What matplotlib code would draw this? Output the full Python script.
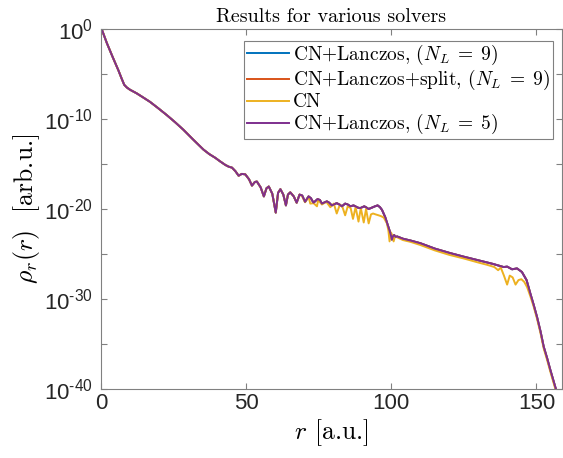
import numpy as np
import matplotlib
matplotlib.use("Agg")
import matplotlib.pyplot as plt
from matplotlib.ticker import FixedLocator, NullFormatter

plt.rcParams["mathtext.fontset"] = "cm"
plt.rcParams["mathtext.rm"] = "Liberation Sans"

# radial grid [a.u.] and log10 of the radial density, Lanczos propagators
r_lanczos = [0, 2, 4, 6, 7.1, 8.0, 8.9, 10, 12.3, 14.5, 16.9, 19.7, 22.6, 25.5, 28.4,
             31.8, 35.3, 37.3, 39.3, 41, 42.8, 44, 45.1, 46.3, 47.4, 48.5, 49.7, 51,
             52, 53, 53.7, 55, 56.1, 57, 57.8, 59, 60.2, 61, 61.8, 62.8, 63.7, 64.4,
             65.2, 66.4, 67.4, 68.4, 69.3, 70.3, 71.5, 72.3, 73.2, 74.6, 75.4, 76.1,
             77.8, 78.6, 79.5, 81.2, 82.1, 83, 84.1, 85, 85.9, 87, 87.6, 88.5, 89.3,
             90.7, 91.5, 92.2, 93.3, 94.4, 95.3, 96.1, 96.8, 97.9, 98.5, 99.1, 99.7,
             100.2, 100.6, 101, 101.5, 102, 104, 106.6, 110, 115, 120.3, 125, 130,
             135, 138.7, 139.9, 141.6, 143.3, 145, 146.6, 147.9, 149, 150.2, 151.4,
             152.5, 153.7, 154.8, 156.6, 158.8]
logrho_lanczos = [0.2, -1.55, -3.1, -4.6, -5.5, -6.2, -6.5, -6.75, -7.15, -7.6, -8.1,
                  -8.8, -9.55, -10.35, -11.2, -12.3, -13.4, -13.9, -14.3, -14.7, -15.1,
                  -15.3, -15.4, -15.8, -16.3, -16.1, -16.15, -16.7, -17.4, -17.0, -16.95,
                  -17.6, -18.6, -17.7, -17.5, -18.3, -20.4, -18.2, -17.8, -18.4, -19.6,
                  -18.4, -18.15, -18.6, -19.3, -18.4, -18.5, -19.2, -18.6, -18.8, -19.3,
                  -18.9, -19.0, -19.4, -19.15, -19.3, -19.6, -19.35, -19.5, -19.7, -19.4,
                  -19.5, -19.7, -19.6, -19.7, -19.85, -19.9, -19.7, -19.85, -20.0,
                  -19.85, -19.7, -19.6, -19.8, -20.1, -20.9, -21.5, -22.1, -22.7, -23.4,
                  -23.0, -22.9, -23.1, -23.05, -23.3, -23.5, -23.8, -24.4, -24.9, -25.3,
                  -25.7, -26.1, -26.45, -26.4, -26.7, -26.6, -27.0, -27.9, -29.4, -30.6,
                  -32.0, -33.6, -35.3, -36.6, -37.9, -39.9, -42.2]

# plain Crank-Nicolson propagator (coincides with the others below r = 68)
r_cn = [0, 2, 4, 6, 7.1, 8.0, 8.9, 10, 12.3, 14.5, 16.9, 19.7, 22.6, 25.5, 28.4,
        31.8, 35.3, 37.3, 39.3, 41, 42.8, 44, 45.1, 46.3, 47.4, 48.5, 49.7, 51,
        52, 53, 53.7, 55, 56.1, 57, 57.8, 59, 60.2, 61, 61.8, 62.8, 63.7, 64.4,
        65.2, 66.4, 67.4, 68.4, 69.3, 70.3, 71.5, 72.1, 73.2, 74.4, 74.8, 76.1,
        77.6, 79, 80.2, 81.2, 82.3, 83.2, 84.1, 85, 86, 86.8, 87.7, 88.7, 89.5,
        90.5, 91.3, 92.2, 93.0, 93.7, 94.6, 95.6, 96.5, 97.4, 98.5, 99.0, 99.4,
        99.9, 100.3, 100.8, 101.3, 101.7, 104, 106.6, 110, 115, 120, 125, 130,
        133, 135.5, 136.8, 137.7, 138.8, 139.9, 140.8, 141.8, 142.8, 143.8, 144.8,
        145.8, 146.8, 147.9, 149, 150.2, 151.4, 152.5, 153.7, 154.8, 156.6, 158.8]
logrho_cn = [0.2, -1.55, -3.1, -4.6, -5.5, -6.2, -6.5, -6.75, -7.15, -7.6, -8.1,
             -8.8, -9.55, -10.35, -11.2, -12.3, -13.4, -13.9, -14.3, -14.7, -15.1,
             -15.3, -15.4, -15.8, -16.3, -16.1, -16.15, -16.7, -17.4, -17.0, -16.95,
             -17.6, -18.6, -17.7, -17.5, -18.3, -20.4, -18.2, -17.8, -18.4, -19.6,
             -18.4, -18.15, -18.6, -19.3, -18.4, -18.6, -19.25, -18.65, -19.4, -19.35,
             -19.7, -19.0, -19.5, -19.2, -19.8, -19.4, -20.5, -19.5, -19.8, -20.7,
             -19.7, -19.9, -21.1, -19.8, -21.4, -19.9, -21.5, -20.0, -21.6, -20.6,
             -20.5, -20.6, -20.7, -20.8, -20.95, -21.6, -22.4, -23.6, -22.6, -22.9,
             -23.6, -23.0, -23.1, -23.45, -23.65, -24.0, -24.6, -25.1, -25.5, -25.95,
             -26.2, -26.45, -26.8, -26.5, -27.4, -28.4, -27.4, -27.6, -28.4, -27.9,
             -27.8, -28.1, -28.7, -29.7, -30.8, -32.2, -33.8, -35.5, -36.8, -38.1,
             -40.1, -42.4]

labels = [r"CN+Lanczos, $(N_L\;=\;9)$", r"CN+Lanczos+split, $(N_L\;=\;9)$", "CN",
          r"CN+Lanczos, $(N_L\;=\;5)$"]
colors = ["#0072BD", "#D95319", "#EDB120", "#7E2F8E"]
series = [(r_lanczos, logrho_lanczos), (r_lanczos, logrho_lanczos),
          (r_cn, logrho_cn), (r_lanczos, logrho_lanczos)]

xticks = [0, 50, 100, 150]
yticks_exp = [-40, -30, -20, -10, 0]

fig = plt.figure(figsize=(5.63, 4.58), dpi=100)
ax = fig.add_axes([101 / 563, 69 / 458, 461 / 563, 360 / 458])

for (r, lg), c, lab in zip(series, colors, labels):
    ax.semilogy(r, 10.0 ** np.asarray(lg), color=c, lw=1.4, label=lab)

ax.set_xlim(0, 158.8)
ax.set_ylim(1e-40, 1e0)

spine_c = "#808080"
for s in ax.spines.values():
    s.set_color(spine_c)
    s.set_linewidth(0.8)

ax.set_xticks(xticks, [str(t) for t in xticks], fontfamily="Liberation Sans", fontsize=16)
ax.set_yticks([10.0 ** e for e in yticks_exp],
              [r"$\mathrm{10^{%s}}$" % str(e).replace("-", "\u2010") for e in yticks_exp],
              math_fontfamily="custom", fontsize=16)
ax.yaxis.set_minor_locator(FixedLocator([10.0 ** e for e in (-35, -25, -15, -5)]))
ax.yaxis.set_minor_formatter(NullFormatter())
ax.xaxis.set_minor_locator(FixedLocator([]))
ax.tick_params(which="both", direction="in", top=True, right=True, color=spine_c,
               labelcolor="#262626", width=0.8)
ax.tick_params(which="major", length=4)
ax.tick_params(axis="x", which="major", pad=3)
ax.tick_params(axis="y", which="major", pad=6)
ax.tick_params(which="minor", length=4)

ax.set_title("Results for various solvers", fontfamily="cmr10", fontsize=14.5, pad=5)
ax.set_xlabel(r"$r$ [a.u.]", fontfamily="cmr10", fontsize=18.5, labelpad=2)
ax.set_ylabel(r"$\rho_r(r)$  [arb.u.]", fontfamily="cmr10", fontsize=18.5, labelpad=1)

leg = ax.legend(loc="upper right", bbox_to_anchor=(0.9805, 0.967), borderaxespad=0,
                prop={"family": "cmr10", "size": 14}, handlelength=2.2,
                handletextpad=0.2, labelspacing=0.05, borderpad=0.12,
                fancybox=False, framealpha=1)
leg.get_frame().set_edgecolor(spine_c)
leg.get_frame().set_linewidth(0.8)

fig.savefig("out.png", dpi=100)
